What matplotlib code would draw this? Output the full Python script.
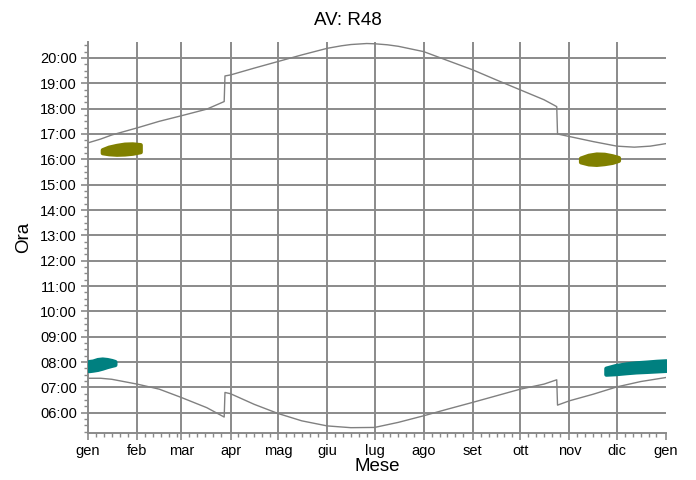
import numpy as np
import matplotlib.pyplot as plt
from matplotlib.ticker import MultipleLocator, FixedLocator

plt.rcParams['font.family'] = ['Liberation Sans', 'DejaVu Sans']

# month starts (day of year) and labels
month_start = [0, 31, 59, 90, 120, 151, 181, 212, 243, 273, 304, 334, 365]
month_labels = ['gen', 'feb', 'mar', 'apr', 'mag', 'giu', 'lug',
                'ago', 'set', 'ott', 'nov', 'dic', 'gen']

# sunset curve (day of year, hour)
sunset_day = [0, 8, 15, 31, 45, 59, 75, 86, 86.5, 90, 105, 120, 135, 151, 160,
              166, 176, 181, 189, 196, 212, 227, 243, 258, 273, 288, 296, 296.5,
              304, 319, 334, 345, 355, 365]
sunset_hour = [16.65, 16.8, 16.96, 17.24, 17.5, 17.72, 17.98, 18.28, 19.29, 19.33,
               19.6, 19.86, 20.12, 20.38, 20.48, 20.53, 20.57, 20.56, 20.52, 20.46,
               20.25, 19.9, 19.53, 19.13, 18.74, 18.35, 18.08, 17.0, 16.9, 16.7,
               16.52, 16.48, 16.52, 16.62]

# sunrise curve (day of year, hour)
sunrise_day = [0, 8, 15, 31, 45, 59, 75, 86, 86.5, 90, 105, 120, 135, 151, 166,
               181, 196, 212, 227, 243, 258, 273, 288, 296, 296.5, 304, 319, 334,
               349, 365]
sunrise_hour = [7.36, 7.36, 7.32, 7.13, 6.93, 6.6, 6.2, 5.83, 6.8, 6.75, 6.33,
                5.97, 5.68, 5.48, 5.41, 5.42, 5.62, 5.88, 6.14, 6.41, 6.67, 6.93,
                7.13, 7.3, 6.3, 6.47, 6.73, 7.02, 7.23, 7.39]

# reflection clusters: days, lower and upper hour
olive_jan_day = [9, 13, 18, 23, 28, 33]
olive_jan_lo = [16.26, 16.22, 16.2, 16.21, 16.24, 16.3]
olive_jan_hi = [16.38, 16.48, 16.55, 16.6, 16.61, 16.58]

olive_dec_day = [311, 316, 321, 326, 331, 335]
olive_dec_lo = [15.9, 15.82, 15.8, 15.83, 15.88, 15.96]
olive_dec_hi = [16.05, 16.16, 16.21, 16.2, 16.14, 16.07]

teal_jan_day = [0.5, 3, 6, 9, 12, 15, 17]
teal_jan_lo = [7.66, 7.68, 7.71, 7.76, 7.82, 7.87, 7.9]
teal_jan_hi = [8.02, 8.04, 8.1, 8.12, 8.1, 8.06, 8.02]

teal_dec_day = [327, 333, 340, 346, 353, 359, 365]
teal_dec_lo = [7.52, 7.54, 7.58, 7.61, 7.63, 7.65, 7.67]
teal_dec_hi = [7.76, 7.86, 7.93, 7.97, 8.0, 8.03, 8.05]

hour_ticks = list(range(6, 21))
hour_labels = ['%02d:00' % h for h in hour_ticks]

grid_col = '#8a8a8a'

fig = plt.figure(figsize=(6.96, 4.8), dpi=100)
ax = fig.add_axes([88 / 696, 47 / 480, 578 / 696, 391 / 480])

# grid
for d in month_start[1:-1]:
    ax.axvline(d, color=grid_col, lw=1.4, zorder=1)
for h in hour_ticks:
    ax.axhline(h, color=grid_col, lw=1.4, zorder=1)

ax.plot(sunset_day, sunset_hour, color='#808080', lw=1.0, zorder=2)
ax.plot(sunrise_day, sunrise_hour, color='#808080', lw=1.0, zorder=2)

for days, lo, hi, col in [(olive_jan_day, olive_jan_lo, olive_jan_hi, '#808000'),
                          (olive_dec_day, olive_dec_lo, olive_dec_hi, '#808000'),
                          (teal_jan_day, teal_jan_lo, teal_jan_hi, '#008080'),
                          (teal_dec_day, teal_dec_lo, teal_dec_hi, '#008080')]:
    ax.fill_between(days, lo, hi, color=col, edgecolor=col, lw=3,
                    joinstyle='round', zorder=3)

ax.set_xlim(0, 365)
ax.set_ylim(5.2, 20.63)

ax.set_xticks(month_start)
ax.set_xticklabels(month_labels)
minor_x = [m + o for m in month_start[:-1] for o in (5, 10, 15, 20, 25)]
ax.xaxis.set_minor_locator(FixedLocator(minor_x))
ax.set_yticks(hour_ticks)
ax.set_yticklabels(hour_labels)
ax.yaxis.set_minor_locator(MultipleLocator(0.25))

for s in ['top', 'right']:
    ax.spines[s].set_visible(False)
for s in ['left', 'bottom']:
    ax.spines[s].set_color(grid_col)
    ax.spines[s].set_linewidth(1.4)

ax.tick_params(which='major', direction='out', length=5, width=1.2,
               color=grid_col, labelsize=10.5, labelcolor='black', pad=3)
ax.tick_params(which='minor', direction='out', length=3, width=1.0,
               color=grid_col)

ax.set_xlabel('Mese', fontsize=13.5, labelpad=0)
ax.set_ylabel('Ora', fontsize=13.5, labelpad=6)
fig.text(0.5, 0.958, 'AV: R48', ha='center', va='center', fontsize=13.5)

fig.savefig('out.png', dpi=100)
